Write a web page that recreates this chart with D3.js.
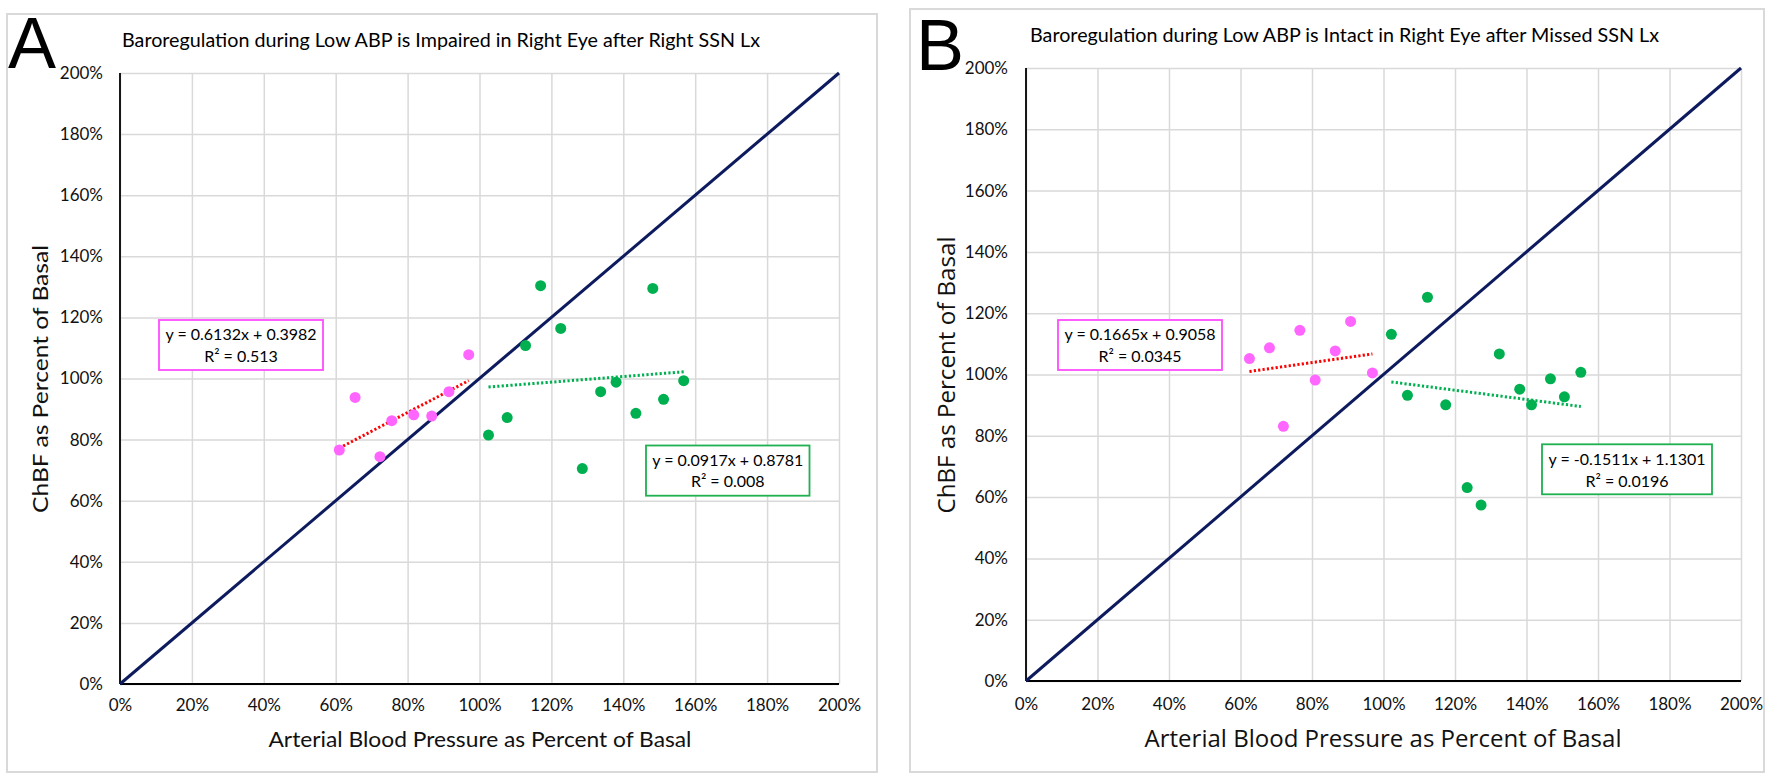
<!DOCTYPE html>
<html>
<head>
<meta charset="utf-8">
<script src="https://cdn.jsdelivr.net/npm/d3@7"></script>
<style>
	html, body { margin: 0; padding: 0; background: #fff; }
	svg { display: block; }
</style>
</head>
<body>
<script>
// tick values (shared by both axes of both panels)
let tickVals = [0, 0.2, 0.4, 0.6, 0.8, 1.0, 1.2, 1.4, 1.6, 1.8, 2.0]

// panel A: Right SSN Lx
let aPinkX = [0.610, 0.654, 0.723, 0.756, 0.817, 0.867, 0.915, 0.970]
let aPinkY = [0.766, 0.938, 0.744, 0.862, 0.881, 0.877, 0.957, 1.078]
let aGreenX = [1.025, 1.077, 1.128, 1.170, 1.226, 1.286, 1.337, 1.380, 1.435, 1.482, 1.512, 1.568]
let aGreenY = [0.815, 0.872, 1.108, 1.304, 1.164, 0.705, 0.957, 0.988, 0.886, 1.295, 0.932, 0.993]
let aPinkFit = [0.6132, 0.3982]
let aGreenFit = [0.0917, 0.8781]
let aPinkLabel = ['y = 0.6132x + 0.3982', 'R² = 0.513']
let aGreenLabel = ['y = 0.0917x + 0.8781', 'R² = 0.008']

// panel B: Missed SSN Lx
let bPinkX = [0.625, 0.681, 0.720, 0.766, 0.809, 0.865, 0.908, 0.969]
let bPinkY = [1.052, 1.087, 0.831, 1.144, 0.982, 1.077, 1.173, 1.005]
let bGreenX = [1.022, 1.067, 1.123, 1.174, 1.234, 1.273, 1.324, 1.381, 1.414, 1.467, 1.506, 1.552]
let bGreenY = [1.131, 0.932, 1.252, 0.901, 0.631, 0.574, 1.067, 0.952, 0.901, 0.986, 0.927, 1.007]
let bPinkFit = [0.1665, 0.9058]
let bGreenFit = [-0.1511, 1.1301]
let bPinkLabel = ['y = 0.1665x + 0.9058', 'R² = 0.0345']
let bGreenLabel = ['y = -0.1511x + 1.1301', 'R² = 0.0196']

let titles = [
	'Baroregulation during Low ABP is Impaired in Right Eye after Right SSN Lx',
	'Baroregulation during Low ABP is Intact in Right Eye after Missed SSN Lx'
]
let xTitle = 'Arterial Blood Pressure as Percent of Basal'
let yTitle = 'ChBF as Percent of Basal'

let W = 1786, H = 782
let svg = d3.select('body').append('svg')
	.attr('width', W)
	.attr('height', H)

let calibri = 'Lato, "Open Sans", sans-serif'
let pinkDot = '#ff66ff', greenDot = '#00b050'
let pinkBox = '#ff4dff', greenBox = '#1fb050'

let panels = [
	{
		letter: 'A', frame: [7, 14, 877, 772], letterPos: [8, 68],
		plot: [120, 839, 684, 73], title: titles[0], titlePos: [122, 46.7, 638],
		xt: [480, 746.7, 423, 21, calibri], yt: [48, 379, 268, 21, calibri],
		xPad: 15, yPad: 17,
		pink: [aPinkX, aPinkY, aPinkFit, aPinkLabel],
		green: [aGreenX, aGreenY, aGreenFit, aGreenLabel],
		pinkBox: [159, 320, 323, 370, 340, 361.7],
		greenBox: [646, 445.5, 809.5, 495.7, 465.7, 487.3],
	},
	{
		letter: 'B', frame: [910, 9, 1764, 772], letterPos: [916, 70],
		plot: [1026, 1741, 681, 68], title: titles[1], titlePos: [1030, 41.7, 629],
		xt: [1383, 746.7, 477, 23, '"Open Sans", sans-serif'], yt: [955, 375, 277, 24, '"Open Sans", sans-serif'],
		xPad: 17, yPad: 18,
		pink: [bPinkX, bPinkY, bPinkFit, bPinkLabel],
		green: [bGreenX, bGreenY, bGreenFit, bGreenLabel],
		pinkBox: [1058, 320, 1222, 370, 340, 361.7],
		greenBox: [1542, 444.3, 1712, 494.3, 465, 487.3],
	},
]

panels.forEach(function (p) {
	let g = svg.append('g')
	let [fx0, fy0, fx1, fy1] = p.frame
	g.append('rect')
		.attr('x', fx0).attr('y', fy0)
		.attr('width', fx1 - fx0).attr('height', fy1 - fy0)
		.attr('fill', '#fff')
		.attr('stroke', '#d9d9d9')
		.attr('stroke-width', 2)

	let [px0, px1, py0, py1] = p.plot
	let x = d3.scaleLinear().domain([0, 2]).range([px0, px1])
	let y = d3.scaleLinear().domain([0, 2]).range([py0, py1])
	let pct = d3.format('.0%')

	// gridlines
	g.append('g')
		.attr('transform', `translate(0,${py0})`)
		.call(d3.axisBottom(x).tickValues(tickVals).tickSize(-(py0 - py1)).tickFormat(''))
		.call(a => a.select('.domain').remove())
		.selectAll('line').attr('stroke', '#d9d9d9').attr('stroke-width', 1.5)
	g.append('g')
		.attr('transform', `translate(${px0},0)`)
		.call(d3.axisLeft(y).tickValues(tickVals).tickSize(-(px1 - px0)).tickFormat(''))
		.call(a => a.select('.domain').remove())
		.selectAll('line').attr('stroke', '#d9d9d9').attr('stroke-width', 1.5)

	// axes with labels
	let xa = g.append('g')
		.attr('transform', `translate(0,${py0})`)
		.call(d3.axisBottom(x).tickValues(tickVals).tickSize(0).tickPadding(p.xPad).tickFormat(pct))
	let ya = g.append('g')
		.attr('transform', `translate(${px0},0)`)
		.call(d3.axisLeft(y).tickValues(tickVals).tickSize(0).tickPadding(p.yPad).tickFormat(pct))
	;[xa, ya].forEach(a => {
		a.select('.domain').attr('stroke', '#000').attr('stroke-width', 1.8)
		a.selectAll('text')
			.attr('font-family', calibri)
			.attr('font-size', 17)
			.attr('fill', '#111')
	})
	xa.select('.domain').attr('d', `M${px0},0H${px1}`)
	ya.select('.domain').attr('d', `M0,${py0}V${py1}`)

	// identity line
	g.append('line')
		.attr('x1', x(0)).attr('y1', y(0))
		.attr('x2', x(2)).attr('y2', y(2))
		.attr('stroke', '#0d1b5e')
		.attr('stroke-width', 3)

	// trend lines
	let trend = function (xs, fit, color) {
		let lo = d3.min(xs), hi = d3.max(xs)
		g.append('line')
			.attr('x1', x(lo)).attr('y1', y(fit[0] * lo + fit[1]))
			.attr('x2', x(hi)).attr('y2', y(fit[0] * hi + fit[1]))
			.attr('stroke', color)
			.attr('stroke-width', 3)
			.attr('stroke-dasharray', '2.2,2.2')
	}
	trend(p.pink[0], p.pink[2], '#ff0000')
	trend(p.green[0], p.green[2], '#00b050')

	// points
	let dots = function (xs, ys, color) {
		g.append('g').selectAll('circle')
			.data(d3.zip(xs, ys))
			.join('circle')
			.attr('cx', d => x(d[0]))
			.attr('cy', d => y(d[1]))
			.attr('r', 5.5)
			.attr('fill', color)
	}
	dots(p.pink[0], p.pink[1], pinkDot)
	dots(p.green[0], p.green[1], greenDot)

	// equation boxes
	let box = function (b, lines, color) {
		let [bx0, by0, bx1, by1, l1, l2] = b
		g.append('rect')
			.attr('x', bx0).attr('y', by0)
			.attr('width', bx1 - bx0).attr('height', by1 - by0)
			.attr('fill', '#fff')
			.attr('stroke', color)
			.attr('stroke-width', 1.8)
		g.selectAll(null)
			.data(lines)
			.join('text')
			.attr('x', (bx0 + bx1) / 2)
			.attr('y', (d, i) => i ? l2 : l1)
			.attr('text-anchor', 'middle')
			.attr('font-family', calibri)
			.attr('font-size', 16)
			.attr('fill', '#000')
			.text(d => d)
	}
	box(p.pinkBox, p.pink[3], pinkBox)
	box(p.greenBox, p.green[3], greenBox)

	// titles
	g.append('text')
		.attr('x', p.titlePos[0]).attr('y', p.titlePos[1])
		.attr('textLength', p.titlePos[2])
		.attr('lengthAdjust', 'spacingAndGlyphs')
		.attr('font-family', calibri)
		.attr('font-size', 18.5)
		.attr('fill', '#000')
		.text(p.title)

	let [xtx, xty, xtl, xts, xtf] = p.xt
	g.append('text')
		.attr('x', xtx).attr('y', xty)
		.attr('text-anchor', 'middle')
		.attr('textLength', xtl)
		.attr('lengthAdjust', 'spacingAndGlyphs')
		.attr('font-family', xtf)
		.attr('font-size', xts)
		.attr('fill', '#111')
		.text(xTitle)

	let [ytx, yty, ytl, yts, ytf] = p.yt
	g.append('text')
		.attr('transform', `translate(${ytx},${yty}) rotate(-90)`)
		.attr('text-anchor', 'middle')
		.attr('textLength', ytl)
		.attr('lengthAdjust', 'spacingAndGlyphs')
		.attr('font-family', ytf)
		.attr('font-size', yts)
		.attr('fill', '#111')
		.text(yTitle)

	g.append('text')
		.attr('x', p.letterPos[0]).attr('y', p.letterPos[1])
		.attr('font-family', '"Liberation Sans", Arial, sans-serif')
		.attr('font-size', 72)
		.attr('fill', '#000')
		.text(p.letter)
})
</script>
</body>
</html>
